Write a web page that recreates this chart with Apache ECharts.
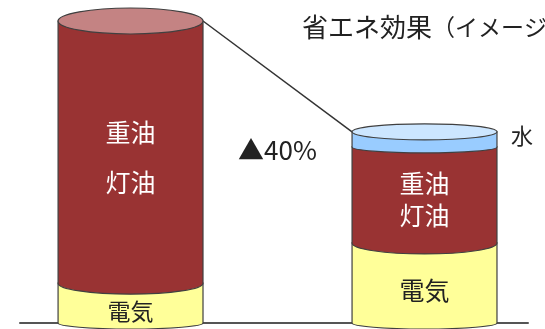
<!DOCTYPE html>
<html>
<head>
<meta charset="utf-8">
<script src="https://cdn.jsdelivr.net/npm/echarts@6/dist/echarts.min.js"></script>
<style>
html,body{margin:0;padding:0;background:#fff;}
#chart{width:545px;height:329px;}
</style>
</head>
<body>
<div id="chart"></div>
<script>
// ---- data ----
const xPositions = [0, 1];                // two cylinders: current / after energy saving
const segmentNames = ['電気', '重油\n灯油', '水'];
const electricity = [13.2, 26.5];
const oil = [86.8, 31.8];
const water = [0, 5.0];
const titleMain = '省エネ効果';
const titleSub = '（イメージ）';
const reductionText = '▲40%';

// ---- style ----
const BAR_W = 0.493;
const FILL = ['#FFFF99', '#993333', '#99CCFF'];
const TOP_FILL = ['#FFFFCC', '#C48383', '#CCE6FF'];
const TEXT_COLOR = ['#222222', '#FFFFFF', '#222222'];
const BOTTOM_RY = [6, 11, 6];
const STROKE = '#404040';
const FONT = '"Noto Sans CJK JP", "Noto Sans", sans-serif';

const chart = echarts.init(document.getElementById('chart'));

function segPath(x0, x1, yTop, yBot, ry) {
  const rx = (x1 - x0) / 2;
  return 'M' + x0 + ' ' + yTop + ' L' + x0 + ' ' + yBot +
    ' A' + rx + ' ' + ry + ' 0 0 0 ' + x1 + ' ' + yBot +
    ' L' + x1 + ' ' + yTop + ' Z';
}
function ellPath(x0, x1, y, ry) {
  const rx = (x1 - x0) / 2;
  return 'M' + x0 + ' ' + y + ' A' + rx + ' ' + ry + ' 0 1 0 ' + x1 + ' ' + y +
    ' A' + rx + ' ' + ry + ' 0 1 0 ' + x0 + ' ' + y + ' Z';
}

function renderItem(params, api) {
  const x = api.value(0);
  const vals = [api.value(1), api.value(2), api.value(3)];
  const base = api.coord([x, 0]);
  const cx = base[0];
  const hw = api.size([BAR_W, 0])[0] / 2;
  const x0 = cx - hw, x1 = cx + hw;
  const children = [];
  const labels = [];
  let cum = 0;
  let topIdx = 0, topY = base[1];
  for (let k = 0; k < 3; k++) {
    if (!(vals[k] > 0)) continue;
    const yBot = api.coord([x, cum])[1];
    cum += vals[k];
    const yTop = api.coord([x, cum])[1];
    children.push({
      type: 'path',
      shape: { pathData: segPath(x0, x1, yTop, yBot, BOTTOM_RY[k]) },
      style: { fill: FILL[k], stroke: STROKE, lineWidth: 1.2 }
    });
    const h = yBot - yTop;
    if (k === 2) {
      labels.push({
        type: 'text', x: x1 + 25, y: (yTop + yBot) / 2 - 4,
        style: { text: segmentNames[k], fill: TEXT_COLOR[k], fontSize: 22, fontFamily: FONT,
                 align: 'center', verticalAlign: 'middle' }
      });
    } else {
      const isTwoLine = segmentNames[k].indexOf('\n') >= 0;
      const lh = Math.min(50, h / 3);
      const fs = k === 0 && h < 60 ? 23 : 25;
      labels.push({
        type: 'text', x: cx, y: (yTop + yBot) / 2 + (k === 0 ? 8 : 5),
        style: { text: segmentNames[k], fill: TEXT_COLOR[k], fontSize: fs, fontFamily: FONT,
                 align: 'center', verticalAlign: 'middle', lineHeight: isTwoLine ? lh : fs + 4 }
      });
    }
    topIdx = k; topY = yTop;
  }
  const topRy = topY < 60 ? 13 : 8;
  children.push({
    type: 'path',
    shape: { pathData: ellPath(x0, x1, topY, topRy) },
    style: { fill: TOP_FILL[topIdx], stroke: STROKE, lineWidth: 1.2 }
  });
  return { type: 'group', children: children.concat(labels) };
}

const totals = xPositions.map((_, i) => electricity[i] + oil[i] + water[i]);
const connector = [
  [xPositions[0] + BAR_W / 2, totals[0]],
  [xPositions[1] - BAR_W / 2, totals[1]]
];

chart.setOption({
  animation: false,
  title: {
    text: '{a|' + titleMain + '}{b|' + titleSub + '}',
    left: 302, top: 12, padding: 0,
    textStyle: {
      fontWeight: 'normal',
      rich: {
        a: { fontSize: 26, fontWeight: 'normal', fontFamily: FONT, color: '#222', lineHeight: 30 },
        b: { fontSize: 23, fontWeight: 'normal', fontFamily: FONT, color: '#222', lineHeight: 30 }
      }
    }
  },
  grid: { left: 20, right: 17, top: 21, bottom: 6 },
  xAxis: {
    type: 'value', min: -0.376, max: 1.352,
    axisLine: { show: true, lineStyle: { color: '#555', width: 2 } },
    axisTick: { show: false }, axisLabel: { show: false }, splitLine: { show: false }
  },
  yAxis: {
    type: 'value', min: 0, max: 100, show: false,
    splitLine: { show: false }
  },
  series: [
    {
      type: 'line', data: connector, symbol: 'none', z: 1,
      lineStyle: { color: '#333', width: 1.5 }
    },
    {
      type: 'custom', renderItem: renderItem, z: 2,
      data: xPositions.map((x, i) => [x, electricity[i], oil[i], water[i]])
    }
  ]
});

const mid = chart.convertToPixel({ gridIndex: 0 }, [(xPositions[0] + xPositions[1]) / 2, 57.3]);
chart.setOption({
  graphic: [{
    type: 'text', x: mid[0], y: mid[1],
    style: { text: reductionText, fontSize: 26, fontFamily: FONT, fill: '#222',
             align: 'center', verticalAlign: 'middle' }
  }]
});
</script>
</body>
</html>
